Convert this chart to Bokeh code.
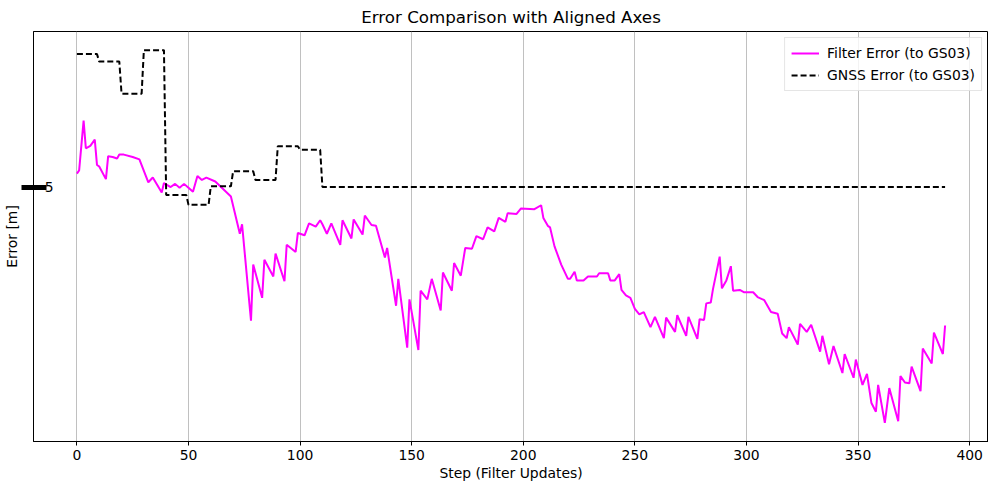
from bokeh.plotting import figure
from bokeh.models import Range1d, FixedTicker, Legend, LegendItem
from bokeh.embed import file_html
from bokeh.resources import INLINE

# ---- data ----
filter_steps = [0, 1, 3, 4, 6, 8, 9, 10, 13, 14, 16, 18, 19, 21, 25, 28, 32, 34, 38, 39,
                42, 44, 46, 48, 50, 52, 54, 56, 58, 62, 69, 73, 74, 78, 79, 83, 84, 88, 89, 93,
                94, 98, 99, 102, 104, 107, 109, 110, 112, 114, 118, 119, 123, 124, 128, 129, 132, 134, 138, 139,
                143, 144, 148, 149, 153, 154, 157, 159, 163, 164, 168, 169, 172, 174, 177, 179, 182, 184, 187, 189,
                192, 193, 197, 199, 205, 208, 209, 211, 212, 214, 217, 220, 221, 223, 224, 227, 229, 233, 234, 238,
                239, 241, 243, 244, 246, 248, 250, 252, 254, 257, 259, 263, 264, 268, 269, 273, 274, 278, 279, 281,
                282, 284, 285, 288, 289, 291, 293, 294, 297, 299, 303, 305, 308, 311, 314, 316, 318, 319, 323, 324,
                327, 329, 333, 334, 337, 339, 343, 344, 348, 349, 352, 354, 356, 358, 359, 362, 364, 368, 369, 371,
                373, 374, 378, 379, 383, 384, 388, 389]
filter_error = [5.17, 5.21, 5.84, 5.49, 5.52, 5.60, 5.28, 5.26, 5.10, 5.39, 5.38, 5.36, 5.41, 5.41, 5.38, 5.35, 5.06, 5.12, 4.93, 5.05,
                5.00, 5.04, 4.99, 5.04, 4.99, 4.94, 5.14, 5.09, 5.12, 5.07, 4.88, 4.41, 4.53, 3.31, 4.02, 3.60, 4.08, 3.87, 4.16, 3.81,
                4.27, 4.18, 4.42, 4.39, 4.54, 4.50, 4.58, 4.53, 4.41, 4.54, 4.27, 4.58, 4.35, 4.59, 4.40, 4.64, 4.52, 4.51, 4.11, 4.23,
                3.50, 3.84, 2.97, 3.58, 2.94, 3.69, 3.58, 3.84, 3.44, 3.92, 3.69, 4.04, 3.88, 4.23, 4.22, 4.38, 4.34, 4.49, 4.44, 4.61,
                4.56, 4.67, 4.66, 4.73, 4.72, 4.77, 4.61, 4.51, 4.49, 4.25, 4.02, 3.84, 3.84, 3.93, 3.82, 3.82, 3.87, 3.87, 3.91, 3.91,
                3.82, 3.82, 3.90, 3.70, 3.63, 3.60, 3.46, 3.39, 3.42, 3.23, 3.36, 3.09, 3.35, 3.17, 3.38, 3.12, 3.36, 3.08, 3.33, 3.32,
                3.53, 3.54, 3.71, 4.12, 3.72, 3.82, 4.00, 3.69, 3.70, 3.67, 3.67, 3.61, 3.57, 3.42, 3.40, 3.15, 3.09, 3.23, 3.01, 3.27,
                3.17, 3.26, 2.92, 3.12, 2.76, 2.99, 2.65, 2.89, 2.59, 2.82, 2.50, 2.64, 2.27, 2.16, 2.50, 2.02, 2.46, 2.04, 2.61, 2.53,
                2.52, 2.73, 2.42, 2.96, 2.77, 3.16, 2.89, 3.25]

gnss_block_start = [0, 10, 20, 30, 40, 50, 60, 70, 80, 90, 100, 110]
gnss_block_value = [6.68, 6.585, 6.18, 6.73, 4.90, 4.775, 5.01, 5.20, 5.09, 5.515, 5.47, 5.00]
last_step = 389

x_ticks = [0, 50, 100, 150, 200, 250, 300, 350, 400]
y_ticks = [5]

# GNSS line: each value held until the next block starts
gnss_x, gnss_y = [], []
ends = [s - 1 for s in gnss_block_start[1:]] + [last_step]
for s, e, v in zip(gnss_block_start, ends, gnss_block_value):
    gnss_x += [s, e]
    gnss_y += [v, v]

all_x = filter_steps + gnss_x
all_y = filter_error + gnss_y
xspan = max(all_x) - min(all_x)
yspan = max(all_y) - min(all_y)

FONT = "DejaVu Sans"

p = figure(frame_width=955, frame_height=410, output_backend="svg", toolbar_location=None,
           x_range=Range1d(min(all_x) - 0.05 * xspan, max(all_x) + 0.05 * xspan),
           y_range=Range1d(min(all_y) - 0.05 * yspan, max(all_y) + 0.05 * yspan),
           title="Error Comparison with Aligned Axes",
           min_border_left=24, min_border_right=0, min_border_top=0, min_border_bottom=0)

p.title.align = "center"
p.title.text_font = FONT
p.title.text_font_size = "16.7px"
p.title.text_font_style = "normal"
p.title.text_color = "black"
p.title.text_line_height = 1.0
p.title.standoff = 9

p.outline_line_color = "black"
p.outline_line_width = 1
p.outline_line_alpha = 1

p.ygrid.visible = False
p.xgrid.grid_line_color = "#b0b0b0"
p.xgrid.grid_line_width = 0.8
p.xgrid.ticker = FixedTicker(ticks=x_ticks)

p.xaxis.ticker = FixedTicker(ticks=x_ticks)
p.xaxis.axis_label = "Step (Filter Updates)"
p.yaxis.ticker = FixedTicker(ticks=y_ticks, minor_ticks=[])
p.yaxis.axis_label = "Error [m]"

for ax in (p.xaxis[0], p.yaxis[0]):
    ax.axis_label_text_font = FONT
    ax.axis_label_text_font_size = "13.9px"
    ax.axis_label_text_font_style = "normal"
    ax.axis_label_text_color = "black"
    ax.axis_label_text_line_height = 1.0
    ax.major_label_text_font = FONT
    ax.major_label_text_font_size = "13.9px"
    ax.major_label_text_color = "black"
    ax.major_label_text_line_height = 1.0
    ax.axis_line_color = "black"
    ax.major_tick_line_color = "black"
    ax.minor_tick_line_color = None

p.xaxis.major_tick_out = 4
p.xaxis.major_tick_in = 0
p.xaxis.major_label_standoff = 4
p.xaxis.axis_label_standoff = 2

p.yaxis.major_tick_out = 12
p.yaxis.major_tick_in = 13
p.yaxis.major_tick_line_width = 5
p.yaxis.major_label_standoff = -32
p.yaxis.axis_label_standoff = 22

r1 = p.line(filter_steps, filter_error, line_color="#ff00ff", line_width=2)
r2 = p.line(gnss_x, gnss_y, line_color="black", line_width=2, line_dash="6 3")

legend = Legend(items=[LegendItem(label="Filter Error (to GS03)", renderers=[r1]),
                       LegendItem(label="GNSS Error (to GS03)", renderers=[r2])],
                location="top_right")
legend.label_text_font = FONT
legend.label_text_font_size = "13.9px"
legend.label_text_color = "black"
legend.border_line_color = "#cccccc"
legend.border_line_width = 1
legend.background_fill_alpha = 0.8
legend.glyph_width = 28
legend.glyph_height = 18
legend.label_height = 18
legend.label_standoff = 8
legend.spacing = 4
legend.padding = 6
legend.margin = 6
p.add_layout(legend)

open("out.html", "w").write(file_html(p, INLINE))
